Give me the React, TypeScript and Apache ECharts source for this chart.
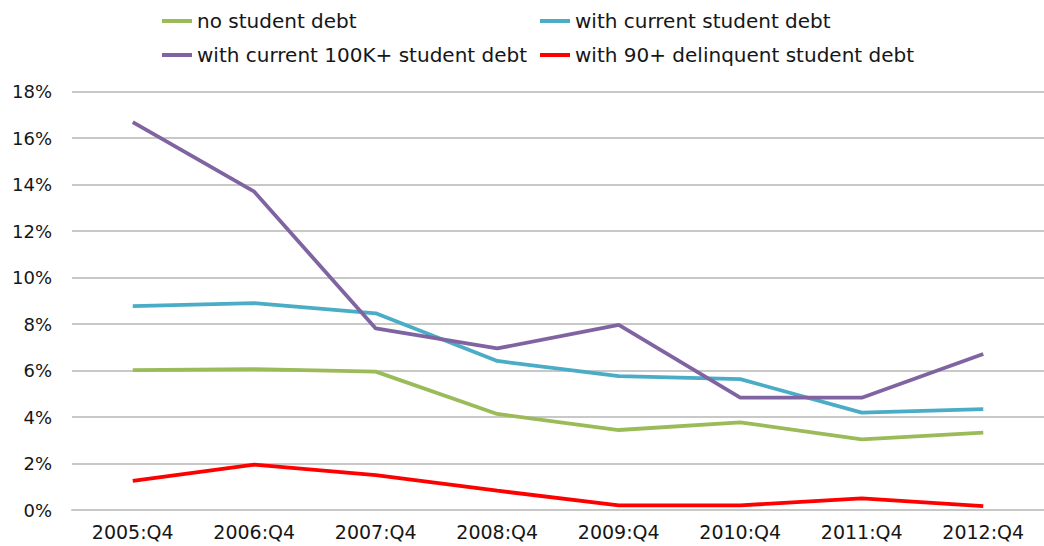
import React, { useEffect, useRef } from "react";
import * as echarts from "echarts";

const categories = ["2005:Q4", "2006:Q4", "2007:Q4", "2008:Q4", "2009:Q4", "2010:Q4", "2011:Q4", "2012:Q4"];
const noDebt = [6.02, 6.06, 5.95, 4.13, 3.44, 3.77, 3.04, 3.33];
const currentDebt = [8.77, 8.9, 8.46, 6.41, 5.76, 5.63, 4.19, 4.34];
const current100k = [16.68, 13.69, 7.81, 6.95, 7.96, 4.83, 4.83, 6.71];
const delinquent = [1.25, 1.95, 1.5, 0.83, 0.2, 0.2, 0.5, 0.17];

const seriesNames = [
  "no student debt",
  "with current student debt",
  "with current 100K+ student debt",
  "with 90+ delinquent student debt",
];
const seriesColors = ["#9BBB59", "#4BACC6", "#8064A2", "#FF0000"];
const seriesData = [noDebt, currentDebt, current100k, delinquent];

const FONT = "DejaVu Sans";

export default function App() {
  const ref = useRef<HTMLDivElement>(null);
  useEffect(() => {
    if (!ref.current) return;
    const chart = echarts.init(ref.current, undefined, { renderer: "svg" });
    const legendPos = [
      { left: 162, top: 11 },
      { left: 540, top: 11 },
      { left: 162, top: 45 },
      { left: 540, top: 45 },
    ];
    chart.setOption({
      animation: false,
      backgroundColor: "#ffffff",
      legend: seriesNames.map((n, i) => ({
        data: [n],
        left: legendPos[i].left,
        top: legendPos[i].top,
        icon: "rect",
        itemWidth: 30,
        itemHeight: 4,
        padding: 0,
        textStyle: { fontFamily: FONT, fontSize: 20, color: "#161616" },
      })),
      grid: { left: 72, right: -12, top: 91.5, bottom: 36, containLabel: false },
      xAxis: {
        type: "category",
        data: categories,
        boundaryGap: true,
        axisLine: { show: true, lineStyle: { color: "#C8C8C8", width: 2 } },
        axisTick: { show: false },
        axisLabel: { fontFamily: FONT, fontSize: 19, color: "#161616", margin: 12 },
        splitLine: { show: false },
      },
      yAxis: {
        type: "value",
        min: 0,
        max: 18,
        interval: 2,
        axisLine: { show: false },
        axisTick: { show: false },
        axisLabel: { fontFamily: FONT, fontSize: 18, color: "#161616", margin: 20, formatter: "{value}%" },
        splitLine: { show: true, lineStyle: { color: "#C8C8C8", width: 2 } },
      },
      series: seriesNames.map((n, i) => ({
        name: n,
        type: "line",
        data: seriesData[i],
        symbol: "none",
        lineStyle: { color: seriesColors[i], width: 3.8 },
        itemStyle: { color: seriesColors[i] },
      })),
    });
    return () => chart.dispose();
  }, []);
  return (
    <div
      ref={ref}
      style={{ position: "fixed", left: 0, top: 0, width: 1044, height: 546, background: "#fff" }}
    />
  );
}
